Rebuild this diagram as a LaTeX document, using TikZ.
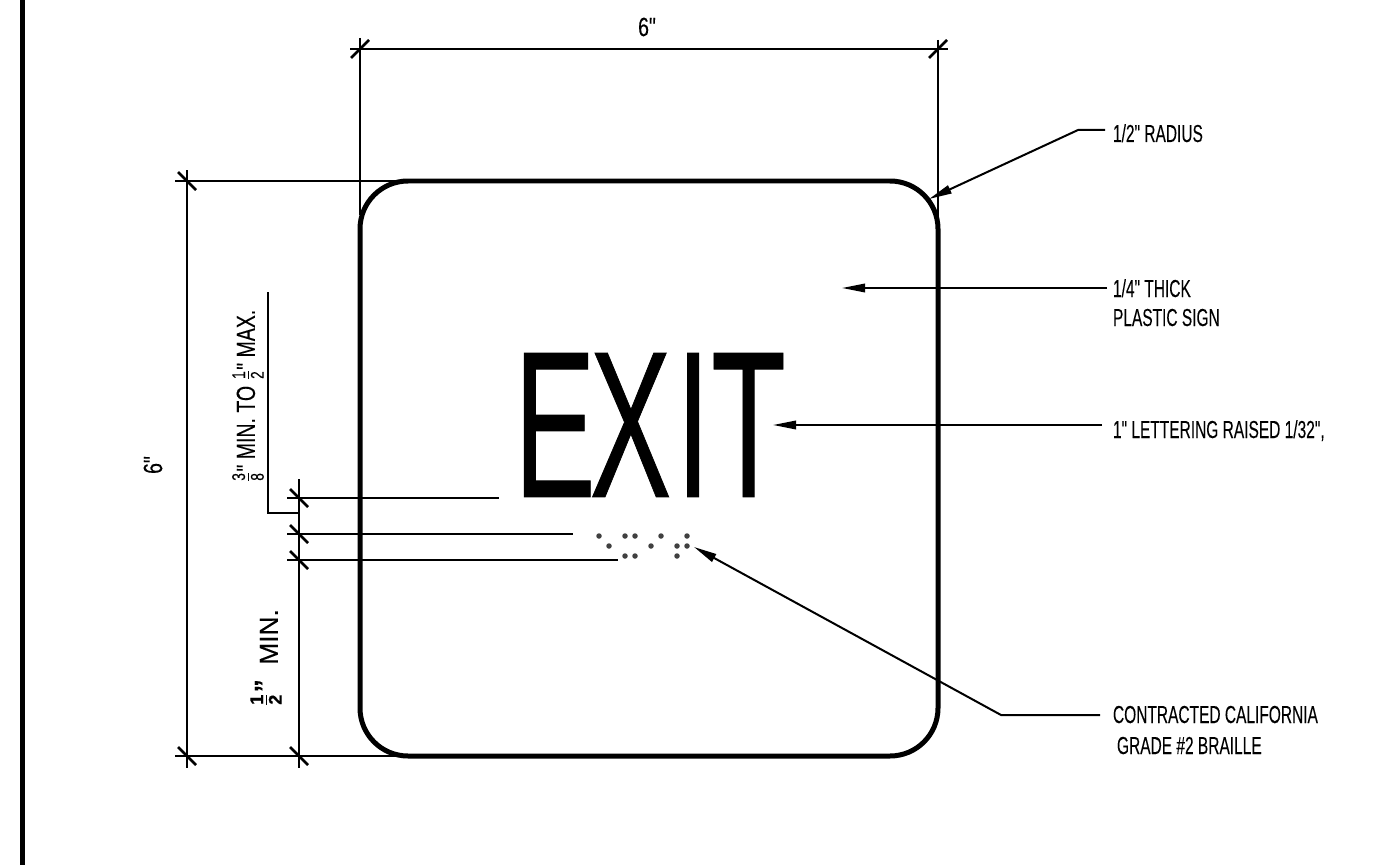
\documentclass[tikz,border=0pt]{standalone}
\usepackage{amsmath}
\usepackage{fontspec}
\newfontfamily\cadfont[FakeBold=0.15]{Liberation Sans}
\newfontfamily\signfont[FakeBold=0.5]{Liberation Sans}
\usetikzlibrary{arrows.meta}
\newcommand{\cadfrac}[2]{$\frac{\text{#1}}{\text{#2}}$}
\tikzset{
  dimline/.style={line width=0.04cm},
  slashmark/.style={line width=0.05cm},
  leader/.style={line width=0.04cm,-{Triangle[length=0.46cm,width=0.17cm]}},
  note/.style={anchor=base west,inner sep=0,outer sep=0,xscale=0.63,font=\cadfont\fontsize{14}{16}\selectfont},
  dimtext/.style={inner sep=0,outer sep=0,rotate=90,xscale=0.74,font=\cadfont\fontsize{15}{18}\selectfont},
  brailledot/.style={circle,fill=black!75,inner sep=0,outer sep=0,minimum size=0.11cm}
}
\begin{document}
\begin{tikzpicture}[x=0.02cm,y=-0.02cm]
      \useasboundingbox (0,0) rectangle (1373,865);
      \fill (20,0) rectangle (25,865);
      % sign
      \draw[line width=0.1cm,rounded corners=0.96cm] (360,181) rectangle (938,756);
      \node[inner sep=0,outer sep=0,xscale=0.585,font=\signfont\fontsize{119}{119}\selectfont] (exit) at (650,425) {E\kern-5.8pt X\kern4.9pt I\kern1pt T};
      % braille
      \foreach \x/\y [count=\i] in {599/536,609/546,625/536,635/536,625/556,635/556,651/546,661/536,677/546,677/556,687/536,687/546}
        \node[brailledot] (dot\i) at (\x,\y) {};
      % points of the dimensions
      \coordinate (topL) at (360,49);
      \coordinate (topR) at (938,49);
      \coordinate (sideT) at (187,181);
      \coordinate (sideB) at (187,756);
      \coordinate (gapA) at (299,498);
      \coordinate (gapB) at (299,534);
      \coordinate (gapC) at (299,560);
      \coordinate (gapD) at (299,756);
      \draw[dimline] (topL) ++(-10,0) -- (948,49);
      \draw[dimline] (topL) ++(0,-11) -- (360,215);
      \draw[dimline] (topR) ++(0,-9) -- (938,230);
      \draw[dimline] (sideT) ++(0,-11) -- (187,768);
      \draw[dimline] (sideT) ++(-12,0) -- (400,181);
      \draw[dimline] (sideB) ++(-12,0) -- (400,756);
      \draw[dimline] (gapA) ++(0,-19) -- (299,768);
      \draw[dimline] (gapA) ++(-12,0) -- (499,498);
      \draw[dimline] (gapB) ++(-12,0) -- (573,534);
      \draw[dimline] (gapC) ++(-12,0) -- (618,560);
      \foreach \p in {topL,topR}
        \draw[slashmark] (\p) +(-9,9) -- +(9,-9);
      \foreach \p in {sideT,sideB,gapA,gapB,gapC,gapD}
        \draw[slashmark] (\p) +(-9,-9) -- +(9,9);
      \coordinate (elbow) at (299,513);
      \coordinate (shelfB) at (268,513);
      \coordinate (shelfT) at (268,292);
      \draw[dimline] (shelfT) -- (shelfB) -- (elbow);
      % dimension texts
      \node[inner sep=0,outer sep=0,xscale=0.74,font=\cadfont\fontsize{15}{18}\selectfont] (wide) at (647,27) {6"};
      \node[dimtext] (high) at (153,465) {6"};
      \node[dimtext] (range) at (248,396) {\cadfrac{3}{8}" MIN. TO \cadfrac{1}{2}" MAX.};
      \node[dimtext,xscale=1.35,font=\cadfont\bfseries\fontsize{15}{18}\selectfont] (least) at (266,658) {\cadfrac{1}{2}”\ \ \raisebox{-0.1cm}{\mdseries MIN.}};
      % notes
      \node[note] (radius) at (1113,142) {1/2" RADIUS};
      \node[note] (thick) at (1113,297) {1/4" THICK};
      \node[note] (plastic) at (1113,326) {PLASTIC SIGN};
      \node[note] (letter) at (1113,438) {1" LETTERING RAISED 1/32",};
      \node[note] (contract) at (1113,723) {CONTRACTED CALIFORNIA};
      \node[note] (grade) at (1117,754) {GRADE \#2 BRAILLE};
      \coordinate (radFree) at (1105,130);
      \coordinate (radBend) at (1078,130);
      \coordinate (radTip) at (929,199);
      \coordinate (thickFree) at (1107,288);
      \coordinate (thickTip) at (842,288);
      \coordinate (letterFree) at (1102,425);
      \coordinate (letterTip) at (773,425);
      \coordinate (brailleFree) at (1100,715);
      \coordinate (brailleBend) at (1001,715);
      \coordinate (brailleTip) at (694,547);
      \draw[leader] (radFree) -- (radBend) -- (radTip);
      \draw[leader] (thickFree) -- (thickTip);
      \draw[leader] (letterFree) -- (letterTip);
      \draw[leader] (brailleFree) -- (brailleBend) -- (brailleTip);
    \end{tikzpicture}
\end{document}
